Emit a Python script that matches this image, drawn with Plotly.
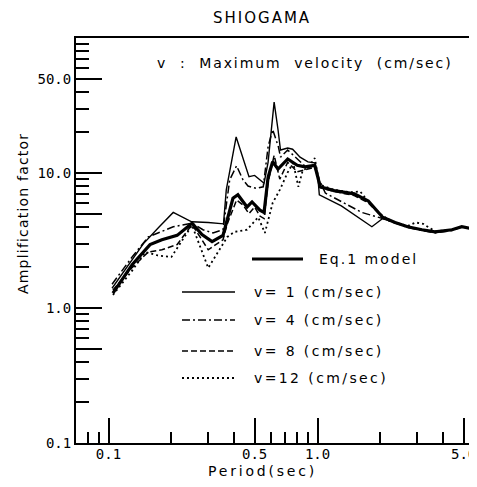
import plotly.graph_objects as go

# ---- data ----
eq1_x = [0.105, 0.13, 0.158, 0.18, 0.213, 0.251, 0.28, 0.313, 0.353, 0.37, 0.394, 0.416, 0.46, 0.486, 0.53, 0.555, 0.58, 0.61, 0.647, 0.72, 0.80, 0.87, 0.97, 1.0, 1.03, 1.2, 1.5, 1.75, 2.05, 2.35, 2.7, 3.16, 3.65, 4.4, 4.9, 5.8]
eq1_y = [1.29, 2.1, 2.95, 3.2, 3.45, 4.25, 3.5, 3.1, 3.45, 4.5, 6.5, 6.9, 5.6, 6.1, 5.3, 5.1, 9.3, 12.1, 10.7, 12.7, 11.4, 11.1, 11.4, 9.5, 7.9, 7.4, 7.0, 6.2, 4.7, 4.3, 4.0, 3.8, 3.66, 3.8, 4.0, 3.8]

v1_x = [0.104, 0.13, 0.147, 0.175, 0.204, 0.25, 0.30, 0.355, 0.366, 0.408, 0.44, 0.47, 0.50, 0.53, 0.555, 0.58, 0.62, 0.647, 0.665, 0.72, 0.76, 0.825, 0.90, 0.97, 1.0, 1.02, 1.3, 1.82, 2.05, 2.35, 2.7, 3.16, 3.65, 4.4, 4.9, 5.8]
v1_y = [1.40, 2.3, 3.0, 4.0, 5.1, 4.35, 4.3, 4.2, 7.5, 18.5, 13.1, 9.4, 9.6, 8.9, 8.4, 12.0, 33.5, 21.0, 14.8, 15.3, 15.0, 13.1, 12.1, 11.9, 10.0, 6.9, 5.7, 4.0, 4.6, 4.3, 4.0, 3.8, 3.66, 3.8, 4.0, 3.8]

v4_x = [0.104, 0.13, 0.155, 0.204, 0.251, 0.283, 0.316, 0.353, 0.38, 0.41, 0.44, 0.465, 0.51, 0.55, 0.58, 0.61, 0.65, 0.665, 0.72, 0.81, 0.89, 0.97, 1.0, 1.09, 1.63, 2.05, 2.35, 2.7, 3.16, 3.65, 4.4, 4.9, 5.8]
v4_y = [1.50, 2.4, 3.36, 4.0, 4.25, 3.8, 3.6, 3.8, 8.9, 11.3, 8.9, 8.0, 7.7, 7.9, 15.6, 21.0, 15.6, 13.1, 14.8, 12.5, 10.9, 11.4, 9.5, 7.1, 5.1, 4.6, 4.25, 3.95, 3.75, 3.6, 3.75, 4.0, 3.8]

v8_x = [0.105, 0.13, 0.155, 0.18, 0.213, 0.251, 0.30, 0.353, 0.37, 0.41, 0.44, 0.47, 0.50, 0.53, 0.555, 0.58, 0.62, 0.66, 0.72, 0.80, 0.88, 0.97, 1.0, 1.03, 1.2, 1.5, 1.75, 2.05, 2.35, 2.7, 3.16, 3.65, 4.4, 4.9, 5.8]
v8_y = [1.36, 2.0, 2.6, 2.7, 2.95, 4.15, 2.7, 3.2, 4.2, 6.3, 5.8, 5.0, 5.6, 4.8, 4.6, 8.5, 13.5, 9.0, 12.0, 10.2, 10.6, 11.0, 9.5, 7.8, 7.3, 6.8, 6.0, 4.7, 4.3, 4.0, 3.8, 3.66, 3.8, 4.0, 3.8]

v12_x = [0.105, 0.13, 0.15, 0.172, 0.20, 0.251, 0.30, 0.37, 0.40, 0.46, 0.52, 0.56, 0.61, 0.66, 0.72, 0.765, 0.81, 0.85, 0.90, 0.97, 1.0, 1.03, 1.2, 1.45, 1.6, 1.8, 2.05, 2.35, 2.7, 2.95, 3.2, 3.65, 4.4, 4.9, 5.8]
v12_y = [1.25, 1.9, 2.6, 2.45, 2.39, 4.1, 1.98, 3.36, 3.66, 3.8, 4.7, 3.6, 6.0, 7.5, 10.1, 11.9, 7.9, 10.5, 10.9, 12.9, 10.0, 8.2, 7.5, 7.2, 7.3, 5.8, 4.8, 4.3, 4.05, 4.3, 4.2, 3.7, 3.8, 4.0, 3.8]

x_major = [0.1, 0.5, 1.0, 5.0]
x_major_text = ["0.1", "0.5", "1.0", "5.0"]
x_minor = [0.08, 0.09, 0.2, 0.3, 0.4, 0.6, 0.7, 0.8, 0.9, 2, 3, 4]
y_major = [0.1, 0.5, 1.0, 5.0, 10.0, 50.0]
y_major_text = ["0.1", "", "1.0", "", "10.0", "50.0"]
y_minor = [0.2, 0.3, 0.4, 0.6, 0.7, 0.8, 0.9, 2, 3, 4, 6, 7, 8, 9, 20, 30, 40, 60, 70, 80, 90]

legend_labels = ["Eq.1 model", "v= 1 (cm/sec)", "v= 4 (cm/sec)", "v= 8 (cm/sec)", "v=12 (cm/sec)"]

# ---- figure geometry (page pixels; the page body adds an 8px offset) ----
OFF = 8
PL, PR, PT, PB = 76, 477, 38, 443          # plot area on the page
W, H = 477 - OFF, 487 - OFF
L, T = PL - OFF, PT - OFF
R = W - L - (PR - PL)
B = H - T - (PB - PT)


def px(x):
    return (x - PL) / (PR - PL)


def py(y):
    return (PB - y) / (PB - PT)


fig = go.Figure()
series = [
    (v12_x, v12_y, dict(width=1.8, dash="2px,3px")),
    (v8_x, v8_y, dict(width=1.5, dash="6px,3px")),
    (v4_x, v4_y, dict(width=1.5, dash="8px,3px,2px,3px")),
    (v1_x, v1_y, dict(width=1.4, dash="solid")),
    (eq1_x, eq1_y, dict(width=3.2, dash="solid")),
]
for xs, ys, ln in series:
    fig.add_trace(go.Scatter(x=xs, y=ys, mode="lines",
                             line=dict(color="black", **ln), showlegend=False,
                             hoverinfo="skip"))

tickfont = dict(family="DejaVu Sans Mono", size=14, color="black")
fig.update_layout(
    width=W, height=H, autosize=False,
    margin=dict(l=L, r=R, t=T, b=B, pad=0),
    paper_bgcolor="white", plot_bgcolor="white",
    showlegend=False,
    xaxis=dict(type="log", range=[-1.1555, 0.763], showgrid=False, zeroline=False,
               automargin=False, ticklabeloverflow="allow", ticklabelstandoff=-3,
               showline=True, linecolor="black", linewidth=2, mirror=True,
               ticks="inside", tickmode="array", tickvals=x_major, ticktext=x_major_text,
               ticklen=25, tickwidth=2, tickcolor="black", tickfont=tickfont,
               minor=dict(ticks="inside", tickmode="array", tickvals=x_minor,
                          ticklen=11, tickwidth=2, tickcolor="black", showgrid=False)),
    yaxis=dict(type="log", range=[-1, 2], showgrid=False, zeroline=False,
               automargin=False, ticklabeloverflow="allow",
               showline=True, linecolor="black", linewidth=2, mirror=False,
               ticks="inside", tickmode="array", tickvals=y_major, ticktext=y_major_text,
               ticklen=26, tickwidth=2, tickcolor="black", tickfont=tickfont,
               minor=dict(ticks="inside", tickmode="array", tickvals=y_minor,
                          ticklen=13, tickwidth=2, tickcolor="black", showgrid=False)),
)

txtfont = dict(family="DejaVu Sans", size=14, color="black")


def spaced(s, sp):
    return '<span style="letter-spacing:%spx">%s</span>' % (sp, s)


ann = [
    dict(text=spaced("SHIOGAMA", 2), x=px(262), y=py(18), xanchor="center", yanchor="middle",
         font=dict(family="DejaVu Sans", size=15, color="black")),
    dict(text=spaced("v  :  Maximum  velocity  (cm/sec)", 1.9), x=px(155), y=py(63),
         xanchor="left", yanchor="middle", font=dict(family="DejaVu Sans", size=14, color="black")),
    dict(text=spaced("Amplification factor", 1.2), x=px(23), y=py(214), textangle=-90,
         xanchor="center", yanchor="middle", font=txtfont),
    dict(text=spaced("Period(sec)", 2.8), x=px(262), y=py(471), xanchor="center", yanchor="middle",
         font=txtfont),
]

leg_rows = [
    (252, 303, 259, dict(width=3.2, dash="solid"), 317, 2),
    (182, 235, 292, dict(width=1.4, dash="solid"), 252, 2.4),
    (182, 235, 320, dict(width=1.5, dash="8px,3px,2px,3px"), 252, 2.4),
    (182, 235, 351, dict(width=1.5, dash="6px,3px"), 252, 2.4),
    (182, 235, 378, dict(width=1.8, dash="2px,3px"), 252, 2.4),
]
for (x0, x1, yy, ln, tx, sp), lab in zip(leg_rows, legend_labels):
    fig.add_shape(type="line", xref="paper", yref="paper", x0=px(x0), x1=px(x1),
                  y0=py(yy), y1=py(yy), line=dict(color="black", **ln))
    ann.append(dict(text=spaced(lab, sp), x=px(tx), y=py(yy), xanchor="left", yanchor="middle",
                    font=txtfont))

for a in ann:
    a.update(xref="paper", yref="paper", showarrow=False)
fig.update_layout(annotations=ann)

fig.write_html("out.html")
